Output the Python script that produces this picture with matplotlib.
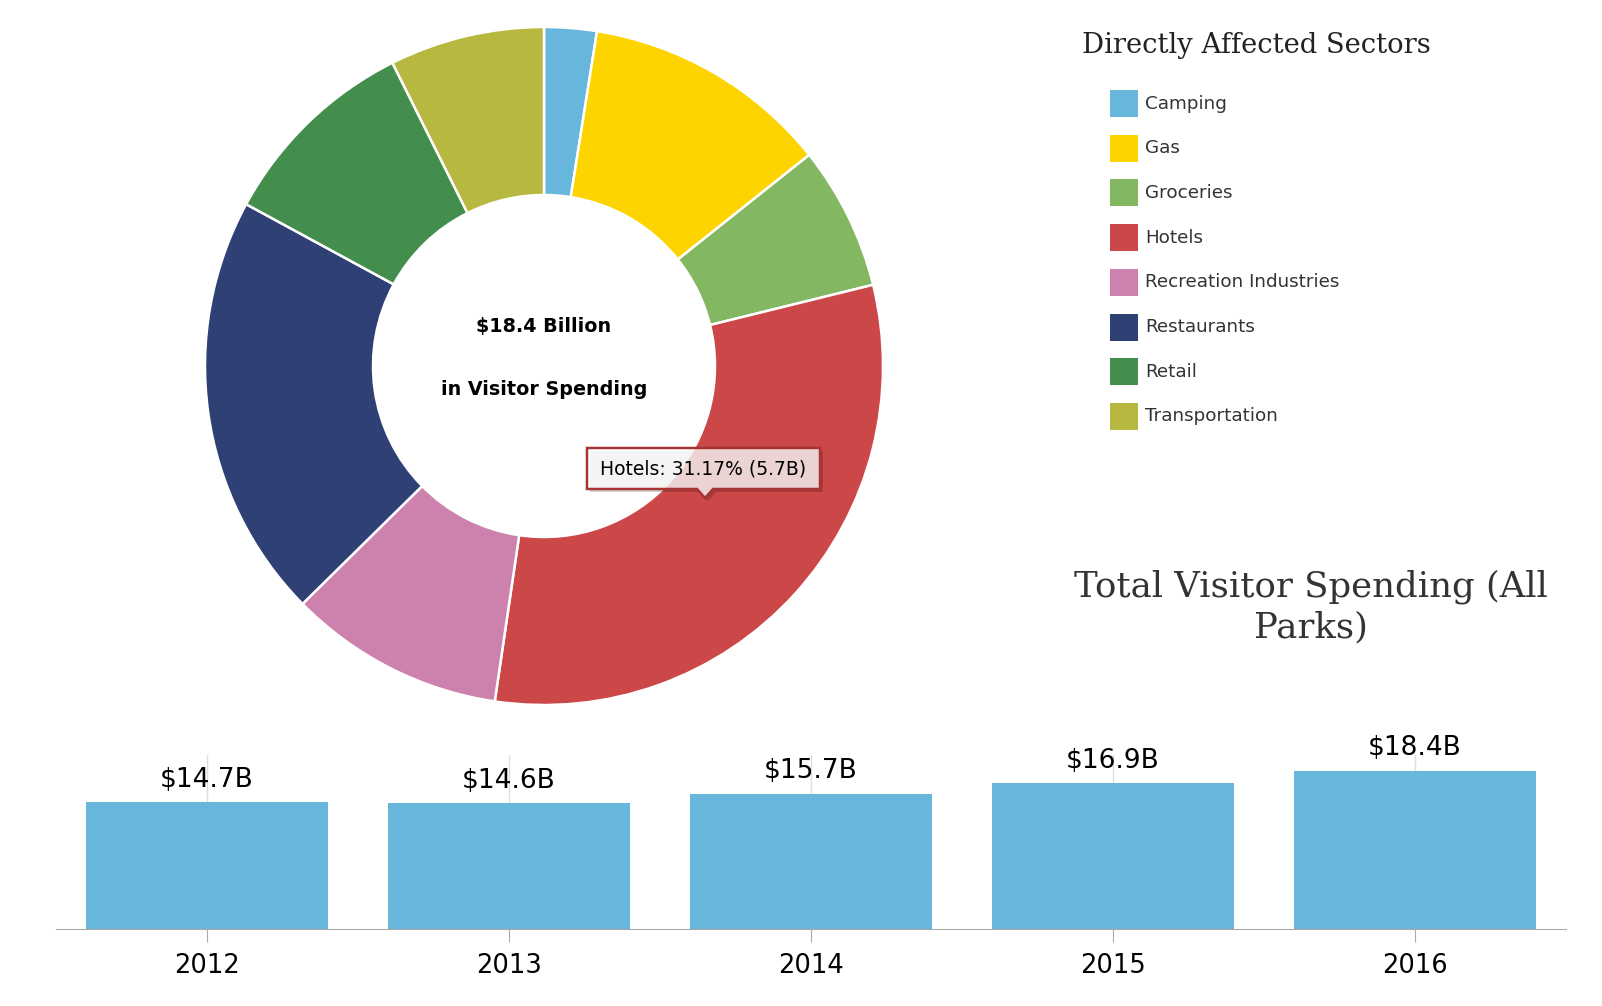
import matplotlib.pyplot as plt
from matplotlib.patches import Rectangle, Polygon
import numpy as np

# donut: share of 2016 visitor spending by sector (%)
sectors = ['Camping', 'Gas', 'Groceries', 'Hotels', 'Recreation Industries',
           'Restaurants', 'Retail', 'Transportation']
shares = [2.5, 11.8, 6.85, 31.17, 10.3, 20.3, 9.7, 7.38]
colors = ['#67b7dc', '#fdd400', '#84b761', '#cc4748', '#cd82ad',
          '#2f4074', '#448e4d', '#b7b83f']
total_b = 18.4

# bars: total visitor spending, billions
years = ['2012', '2013', '2014', '2015', '2016']
spending = [14.7, 14.6, 15.7, 16.9, 18.4]
bar_color = '#67b7dc'

W, H = 1602, 1006
fig = plt.figure(figsize=(W / 100, H / 100), dpi=100)

# overlay axes in pixel units (y measured from bottom)
ax = fig.add_axes([0, 0, 1, 1])
cx, cy, R, ring = 544, H - 366, 339, 168
wedges, _ = ax.pie(shares, colors=colors, startangle=90, counterclock=False,
                   center=(cx, cy), radius=R,
                   wedgeprops=dict(width=ring, edgecolor='white', linewidth=1.8))
ax.set_xlim(0, W)
ax.set_ylim(0, H)
ax.axis('off')

# centre text
ax.text(cx, H - 326, f'${total_b} Billion', ha='center', va='center',
        fontsize=13.8, fontweight='bold', color='black')
ax.text(cx, H - 389, 'in Visitor Spending', ha='center', va='center',
        fontsize=13.8, fontweight='bold', color='black')

# tooltip for hotels
hi = sectors.index('Hotels')
tip = f'{sectors[hi]}: {shares[hi]:.2f}% ({total_b * shares[hi] / 100:.1f}B)'
x0, x1, y0, y1, px = 587, 820, H - 448, H - 489, 705
pts = [(x0, y0), (x1, y0), (x1, y1), (px + 8, y1), (px, y1 - 9), (px - 8, y1), (x0, y1)]
shadow = Polygon([(x + 3, y - 3) for x, y in pts], closed=True,
                 fc='#000000', alpha=0.18, ec='none')
ax.add_patch(shadow)
ax.add_patch(Polygon(pts, closed=True, fc='white', alpha=0.78, ec='none'))
ax.add_patch(Polygon(pts, closed=True, fill=False, ec='#a83334', lw=1.8))
ax.text((x0 + x1) / 2, (y0 + y1) / 2, tip, ha='center', va='center',
        fontsize=13.5, color='black')

# legend
ax.text(1082, H - 53, 'Directly Affected Sectors', ha='left', va='baseline',
        fontsize=19.7, family='DejaVu Serif', color='#222222')
for i, (name, col) in enumerate(zip(sectors, colors)):
    yc = H - (103.5 + i * 44.7)
    ax.add_patch(Rectangle((1110, yc - 13.5), 28, 27, fc=col, ec='none'))
    ax.text(1145, yc, name, ha='left', va='center', fontsize=13.2, color='#333333')

# bar chart title
ax.text(1311, H - 597, 'Total Visitor Spending (All', ha='center', va='baseline',
        fontsize=25.6, family='DejaVu Serif', color='#333333')
ax.text(1311, H - 637, 'Parks)', ha='center', va='baseline',
        fontsize=25.6, family='DejaVu Serif', color='#333333')

# bars
bx = fig.add_axes([56 / W, (H - 929) / H, 1510 / W, 174 / H])
bx.patch.set_alpha(0)
xs = np.arange(len(years))
bars = bx.bar(xs, spending, width=0.8, color=bar_color, zorder=2)
bx.set_xlim(-0.5, len(years) - 0.5)
bx.set_ylim(0, 20.2)
bx.set_xticks(xs, years)
bx.set_yticks([])
for x in xs:
    bx.axvline(x, color='#dddddd', lw=1, zorder=1)
for s in ['top', 'left', 'right']:
    bx.spines[s].set_visible(False)
bx.spines['bottom'].set_color('#aaaaaa')
bx.tick_params(axis='x', length=9, color='#aaaaaa', labelsize=18.5, pad=8)
for rect, v in zip(bars, spending):
    bx.annotate(f'${v}B', (rect.get_x() + rect.get_width() / 2, v),
                xytext=(0, 7), textcoords='offset points', ha='center',
                va='bottom', fontsize=19, color='black', annotation_clip=False)

fig.savefig('out.png', dpi=100, facecolor='white')
